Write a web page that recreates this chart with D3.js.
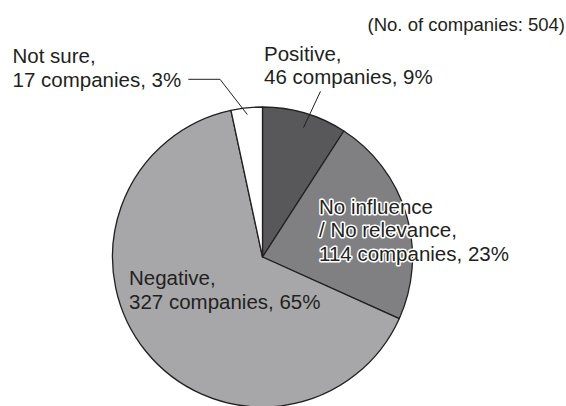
<!DOCTYPE html>
<html>
<head>
<meta charset="utf-8">
<script src="https://cdn.jsdelivr.net/npm/d3@7"></script>
<style>
  html, body { margin: 0; padding: 0; background: #fff; }
  svg { display: block; }
  text { font-family: "Liberation Sans", Arial, Helvetica, sans-serif; fill: #231f20; }
</style>
</head>
<body>
<svg id="chart" width="566" height="406"></svg>
<script>
// ---- data ----
const categories = ["Positive", "No influence / No relevance", "Negative", "Not sure"];
const companies = [46, 114, 327, 17];
const percents = [9, 23, 65, 3];
const labelLines = [
  ["Positive,", "46 companies, 9%"],
  ["No influence", "/ No relevance,", "114 companies, 23%"],
  ["Negative,", "327 companies, 65%"],
  ["Not sure,", "17 companies, 3%"]
];
const totalNote = "(No. of companies: 504)";

// ---- style / layout ----
const colors = ["#58585a", "#808082", "#a7a7a9", "#ffffff"];
const W = 566, H = 406;
const cx = 262.5, cy = 257, R = 150;
const fontSize = 20.5, lineH = 23.5;
// label anchor (left x, first baseline y) and halo flag
const labelLayout = [
  { x: 264, y: 60.5, halo: false },
  { x: 319, y: 213.5, halo: true },
  { x: 129, y: 285, halo: false },
  { x: 12.5, y: 63.3, halo: false }
];

const svg = d3.select("#chart");
svg.append("rect").attr("width", W).attr("height", H).attr("fill", "#fff");

const g = svg.append("g").attr("transform", `translate(${cx},${cy})`);

const pie = d3.pie().sort(null).value(d => d).startAngle(0).endAngle(2 * Math.PI);
const arcs = pie(companies);
const arc = d3.arc().innerRadius(0).outerRadius(R);

g.selectAll("path.slice")
  .data(arcs)
  .join("path")
  .attr("class", "slice")
  .attr("d", arc)
  .attr("fill", (d, i) => colors[i])
  .attr("stroke", "#231f20")
  .attr("stroke-width", 1.3)
  .attr("stroke-linejoin", "round");

// leader lines (derived from slice mid-angles)
function polar(angle, r) {
  return [cx + r * Math.sin(angle), cy - r * Math.cos(angle)];
}
const mid = d => (d.startAngle + d.endAngle) / 2;

// Positive leader
{
  const d = arcs[0];
  const a = mid(d);
  const p1 = polar(a + 0.02, R * 0.905);
  const p2 = polar(a + 0.05, R * 1.17);
  svg.append("polyline")
    .attr("points", [p1, p2].map(p => p.join(",")).join(" "))
    .attr("fill", "none").attr("stroke", "#231f20").attr("stroke-width", 1);
}
// Not sure leader
{
  const d = arcs[3];
  const a = mid(d);
  const p1 = polar(a, R * 0.955);
  const elbowY = 79.3;
  // go outward along the same direction-ish to elbow at label line height
  const elbow = [220, elbowY];
  const start = [188.3, elbowY];
  svg.append("polyline")
    .attr("points", [start, elbow, p1].map(p => p.join(",")).join(" "))
    .attr("fill", "none").attr("stroke", "#231f20").attr("stroke-width", 1);
}

// labels
labelLines.forEach((lines, i) => {
  const L = labelLayout[i];
  const t = svg.append("text")
    .attr("x", L.x).attr("y", L.y)
    .attr("font-size", fontSize);
  if (L.halo) {
    t.attr("stroke", "#ffffff").attr("stroke-width", 3)
     .attr("stroke-linejoin", "round").attr("paint-order", "stroke");
  }
  lines.forEach((s, j) => {
    t.append("tspan").attr("x", L.x).attr("y", L.y + j * lineH).text(s);
  });
});

// total note
svg.append("text")
  .attr("x", 565).attr("y", 31)
  .attr("text-anchor", "end")
  .attr("font-size", 18.5)
  .text(totalNote);
</script>
</body>
</html>
